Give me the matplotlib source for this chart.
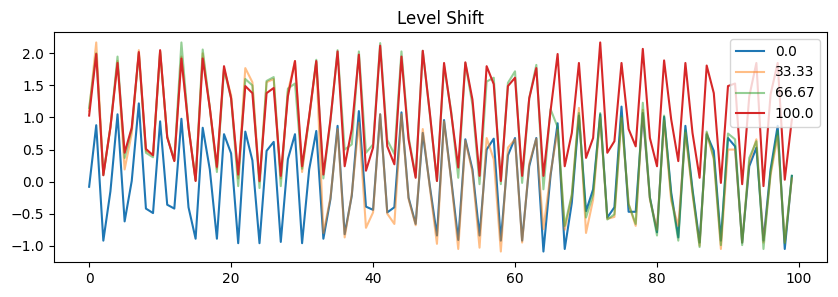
import matplotlib
matplotlib.use("Agg")
import matplotlib.pyplot as plt
import numpy as np

labels = ["0.0", "33.33", "66.67", "100.0"]

s0 = [-0.08, 0.88, -0.92, -0.15, 1.05, -0.62, 0.01, 1.22, -0.42, -0.49,
      0.94, -0.36, -0.42, 0.98, -0.40, -0.89, 0.84, 0.19, -0.89, 0.74,
      0.44, -0.96, 0.78, 0.33, -0.96, 0.48, 0.62, -0.94, 0.35, 0.74,
      -0.96, 0.19, 0.79, -0.89, -0.27, 0.87, -0.82, -0.22, 1.10, -0.39,
      -0.44, 1.05, -0.48, -0.40, 1.08, -0.25, -0.66, 0.76, -0.07, -0.84,
      0.96, 0.04, -0.91, 0.66, 0.19, -0.84, 0.50, 0.67, -0.92, 0.41,
      0.68, -0.92, 0.24, 0.68, -1.09, 0.09, 0.91, -1.05, -0.33, 1.03,
      -0.46, -0.12, 1.05, -0.56, -0.40, 1.17, -0.47, -0.47, 1.07, -0.25,
      -0.79, 1.01, -0.17, -0.87, 0.87, -0.12, -0.95, 0.74, 0.48, -0.92,
      0.68, 0.55, -0.95, 0.24, 0.53, -0.92, 0.19, 0.87, -1.05, 0.09]

s33 = [1.10, 2.17, 0.12, 0.85, 1.88, 0.19, 0.75, 2.05, 0.48, 0.42,
       2.03, 0.70, 0.33, 1.95, 0.85, 0.02, 2.00, 1.15, 0.20, 1.76,
       1.35, 0.05, 1.77, 1.55, 0.00, 1.55, 1.60, 0.05, 1.40, 1.88,
       0.15, 1.00, 1.86, -0.80, -0.25, 0.82, -0.87, -0.20, 0.92, -0.72,
       -0.48, 1.05, -0.50, -0.66, 1.05, -0.27, -0.68, 0.82, -0.10, -0.97,
       0.94, 0.02, -1.05, 0.64, 0.15, -1.03, 0.68, 0.35, -1.09, 0.53,
       0.66, -0.95, 0.28, 0.67, -0.74, 0.12, 0.81, -0.75, -0.22, 1.15,
       -0.80, -0.28, 1.00, -0.58, -0.55, 0.99, -0.35, -0.69, 1.12, -0.28,
       -0.75, 0.95, -0.30, -0.69, 0.76, -0.20, -1.00, 0.76, 0.35, -1.05,
       0.50, 0.50, -0.95, 0.30, 0.66, -0.95, 0.10, 0.71, -0.95, 0.05]

s67 = [1.15, 2.00, 0.10, 0.85, 1.95, 0.37, 0.82, 2.00, 0.45, 0.38,
       2.03, 0.70, 0.33, 2.17, 0.85, 0.02, 2.06, 1.15, 0.15, 1.75,
       1.30, -0.07, 1.60, 1.50, -0.10, 1.57, 1.63, -0.07, 1.45, 1.53,
       0.20, 1.00, 1.90, 0.05, 0.95, 2.05, 0.50, 0.58, 2.03, 0.45,
       0.58, 2.16, 0.65, 0.43, 2.03, 0.70, 0.08, 2.04, 1.05, 0.01,
       1.80, 1.10, 0.06, 1.85, 1.20, -0.04, 1.56, 1.62, -0.04, 1.54,
       1.72, -0.02, 1.30, 1.82, -0.12, 1.13, 0.85, -0.69, -0.20, 1.07,
       -0.56, -0.20, 1.07, -0.59, -0.51, 1.02, -0.35, -0.66, 1.23, -0.25,
       -0.84, 1.03, -0.22, -0.92, 0.80, -0.15, -1.02, 0.78, 0.37, -0.99,
       0.75, 0.66, -0.99, 0.37, 0.63, -1.05, 0.14, 0.79, -0.96, 0.09]

s100 = [1.03, 1.99, 0.10, 0.85, 1.85, 0.45, 0.84, 2.02, 0.51, 0.41,
        2.05, 0.69, 0.32, 1.92, 0.85, 0.01, 1.92, 1.15, 0.23, 1.80,
        1.30, 0.11, 1.49, 1.38, 0.01, 1.38, 1.46, 0.09, 1.33, 1.88,
        0.24, 1.02, 1.88, 0.11, 0.97, 2.03, 0.24, 0.82, 1.98, 0.17,
        0.53, 2.12, 0.55, 0.27, 1.95, 0.66, 0.06, 2.04, 1.07, 0.01,
        1.85, 1.07, 0.22, 1.86, 1.28, 0.09, 1.80, 1.52, 0.01, 1.49,
        1.62, 0.09, 1.30, 1.77, 0.09, 1.10, 1.99, 0.24, 0.76, 1.85,
        0.37, 0.68, 2.17, 0.45, 0.63, 1.85, 0.82, 0.55, 2.07, 0.68,
        0.24, 1.89, 0.97, 0.32, 1.85, 0.76, 0.06, 1.81, 1.38, -0.02,
        1.49, 1.53, -0.04, 1.33, 1.85, -0.07, 1.36, 1.85, 0.03, 0.97]

series = [s0, s33, s67, s100]
colors = ["C0", "C1", "C2", "C3"]
alphas = [1.0, 0.5, 0.5, 1.0]

fig = plt.figure(figsize=(8.38, 2.97), dpi=100)
ax = fig.add_axes([54/838, 1 - 262/297, (827 - 54)/838, (262 - 32)/297])
x = np.arange(len(s0))
for s, c, a, lab in zip(series, colors, alphas, labels):
    ax.plot(x, s, color=c, alpha=a, label=lab)
ax.set_title("Level Shift")
ax.legend(loc="upper right")
fig.savefig("out.png", dpi=100)
